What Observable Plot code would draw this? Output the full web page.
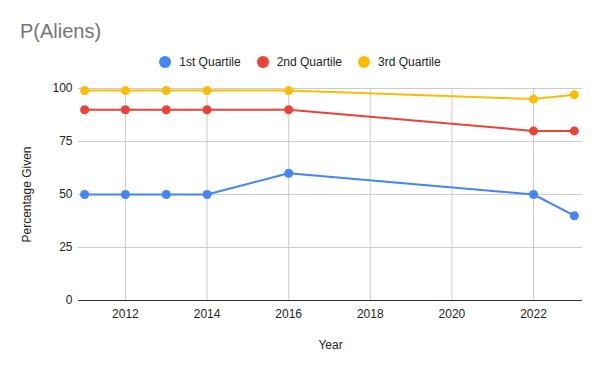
<!DOCTYPE html>
<html>
<head>
<meta charset="utf-8">
<script src="https://cdn.jsdelivr.net/npm/d3@7"></script>
<script src="https://cdn.jsdelivr.net/npm/@observablehq/plot@0.6"></script>
<style>
  html, body { margin: 0; padding: 0; background: #fff; }
  body { width: 600px; height: 371px; overflow: hidden; font-family: Arial, "Liberation Sans", sans-serif; }
  #header { position: relative; width: 600px; height: 75px; }
  #title { position: absolute; left: 20px; top: 19px; font-size: 20px; color: #757575; line-height: 24px; }
  #legend { position: absolute; left: 0; width: 600px; top: 54px; display: flex; justify-content: center; font-size: 12px; color: #222; line-height: 16px; }
  .item { display: flex; align-items: center; margin: 0 8px; }
  .sw { width: 12px; height: 12px; border-radius: 50%; margin-right: 8px; }
</style>
</head>
<body>
<div id="header">
  <div id="title">P(Aliens)</div>
  <div id="legend"></div>
</div>
<div id="chart"></div>
<script>
const years = [2011, 2012, 2013, 2014, 2016, 2022, 2023];
const q1 = [50, 50, 50, 50, 60, 50, 40];
const q2 = [90, 90, 90, 90, 90, 80, 80];
const q3 = [99, 99, 99, 99, 99, 95, 97];
const seriesNames = ["1st Quartile", "2nd Quartile", "3rd Quartile"];
const seriesColors = ["#4285F4", "#EA4335", "#FBBC04"];
const xTicks = [2012, 2014, 2016, 2018, 2020, 2022];
const yTicks = [0, 25, 50, 75, 100];

const seriesValues = [q1, q2, q3];
const data = [];
seriesNames.forEach((name, i) => {
  years.forEach((yr, j) => data.push({series: name, year: yr, value: seriesValues[i][j]}));
});

const legend = document.getElementById("legend");
seriesNames.forEach((name, i) => {
  const it = document.createElement("div");
  it.className = "item";
  it.innerHTML = `<span class="sw" style="background:${seriesColors[i]}"></span><span>${name}</span>`;
  legend.appendChild(it);
});

const chart = Plot.plot({
  width: 600,
  height: 296,
  marginLeft: 78,
  marginRight: 18,
  marginTop: 13,
  marginBottom: 71,
  style: { fontFamily: "Arial, 'Liberation Sans', sans-serif", fontSize: "12px", color: "#222", background: "#fff" },
  x: { domain: [2010.85, 2023.2] },
  y: { domain: [0, 100] },
  color: { domain: seriesNames, range: seriesColors },
  marks: [
    Plot.gridX(xTicks, { stroke: "#ccc", strokeOpacity: 1 }),
    Plot.gridY(yTicks, { stroke: "#ccc", strokeOpacity: 1 }),
    Plot.ruleY([0], { stroke: "#333", strokeWidth: 1 }),
    Plot.axisX(xTicks, { tickSize: 0, tickPadding: 9, tickFormat: d => String(d), label: "Year", labelAnchor: "center", labelArrow: "none", labelOffset: 48, fill: "#222" }),
    Plot.axisY(yTicks, { tickSize: 0, tickPadding: 6, label: "Percentage Given", labelAnchor: "center", labelArrow: "none", labelOffset: 56, fill: "#222" }),
    Plot.line(data, { x: "year", y: "value", z: "series", stroke: "series", strokeWidth: 2 }),
    Plot.dot(data, { x: "year", y: "value", fill: "series", r: 4.5 })
  ]
});
document.getElementById("chart").appendChild(chart);
</script>
</body>
</html>
